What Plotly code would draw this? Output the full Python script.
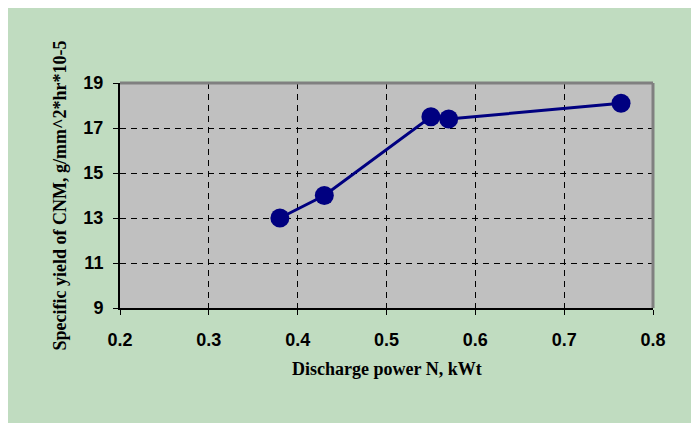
import plotly.graph_objects as go

power_kwt = [0.38, 0.43, 0.55, 0.57, 0.764]
specific_yield = [13.0, 14.0, 17.5, 17.4, 18.1]
x_ticks = [0.2, 0.3, 0.4, 0.5, 0.6, 0.7, 0.8]
y_ticks = [9, 11, 13, 15, 17, 19]

x_title = "Discharge power N, kWt"
y_title = "Specific yield of CNM, g/mm^2*hr*10-5"

fig = go.Figure()
fig.add_trace(go.Scatter(
    x=power_kwt, y=specific_yield, mode="lines+markers",
    line=dict(color="#000080", width=3),
    marker=dict(color="#000080", size=19, line=dict(width=0)),
    showlegend=False, cliponaxis=False,
))

tickfont = dict(family="Liberation Sans, Arial", size=18, color="black", weight="bold")
grid = dict(showgrid=True, gridcolor="black", gridwidth=1, griddash="6px,5px")

fig.update_xaxes(range=[0.2, 0.8], tickvals=x_ticks, ticktext=[str(v) for v in x_ticks],
                 ticks="outside", ticklen=5, tickcolor="black", tickwidth=1,
                 showline=True, linecolor="black", linewidth=2, zeroline=False,
                 tickfont=tickfont, ticklabelstandoff=9, **grid)
fig.update_yaxes(range=[9, 19], tickvals=y_ticks, ticks="outside", ticklen=5,
                 tickcolor="black", tickwidth=1, showline=True, linecolor="black",
                 linewidth=2, zeroline=False, tickfont=tickfont, ticklabelstandoff=6,
                 **grid)

titlefont = dict(family="Liberation Serif, Times New Roman", size=18, color="black", weight="bold")
fig.add_annotation(text=x_title, xref="paper", yref="paper", x=0.5, y=-0.271,
                   xanchor="center", yanchor="middle", showarrow=False, font=titlefont)
fig.add_annotation(text=y_title, xref="paper", yref="paper", x=-0.1126, y=0.5,
                   xanchor="center", yanchor="middle", textangle=-90, showarrow=False,
                   font=titlefont)

# top and right plot-area borders (gray)
fig.add_shape(type="line", xref="paper", yref="paper", x0=0, x1=1, y0=1, y1=1,
              line=dict(color="#808080", width=3))
fig.add_shape(type="line", xref="paper", yref="paper", x0=1, x1=1, y0=0, y1=1,
              line=dict(color="#808080", width=3))

fig.update_layout(
    width=699, height=423,
    margin=dict(l=112, r=54, t=75, b=123),
    paper_bgcolor="#C0DCC0", plot_bgcolor="#C0C0C0",
)
fig.write_html("out.html")
